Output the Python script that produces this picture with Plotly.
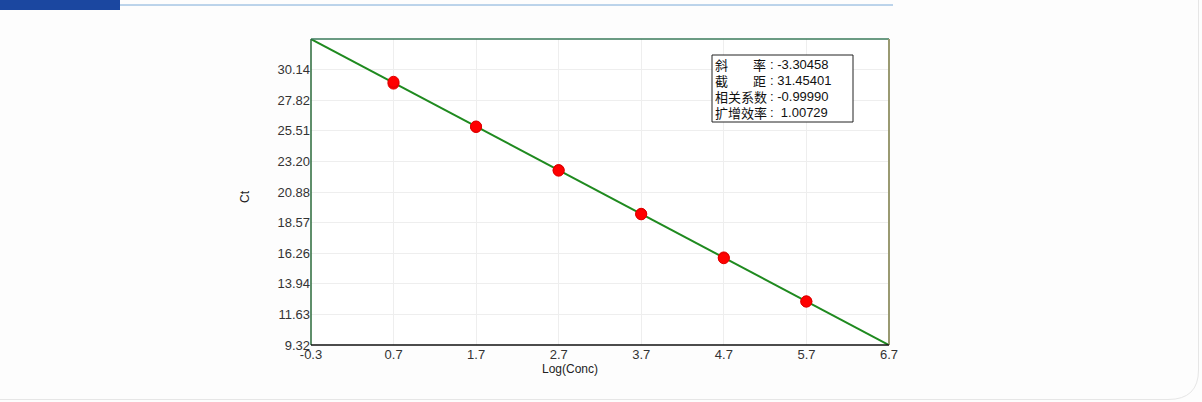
import plotly.graph_objects as go

# Data
log_conc = [0.699, 0.699, 1.699, 1.699, 2.699, 2.699, 3.699, 3.699, 4.699, 4.699, 5.699, 5.699]
ct_values = [29.08, 29.22, 25.80, 25.84, 22.55, 22.50, 19.24, 19.20, 15.94, 15.88, 12.62, 12.60]
slope = -3.30458
intercept = 31.45401
corr = -0.99990
efficiency = 1.00729
x_range = [-0.3, 6.7]
y_ticks = [9.32, 11.63, 13.94, 16.26, 18.57, 20.88, 23.20, 25.51, 27.82, 30.14]
x_ticks = [-0.3, 0.7, 1.7, 2.7, 3.7, 4.7, 5.7, 6.7]
info_left = ["斜", "截", "相关系数", "扩增效率"]
info_right = ["率", "距", "", ""]
info_values = [f"{slope:.5f}", f"{intercept:.5f}", f"{corr:.5f}", f"&nbsp;{efficiency:.5f}"]

line_y = [slope * x + intercept for x in x_range]
y_top = y_ticks[0] + (y_ticks[-1] - y_ticks[0]) / 9 * 10

fig = go.Figure()
fig.add_trace(go.Scatter(x=x_range, y=line_y, mode="lines",
                         line=dict(color="#1f8a1f", width=2), hoverinfo="skip"))
fig.add_trace(go.Scatter(x=log_conc, y=ct_values, mode="markers",
                         marker=dict(color="#ff0000", size=11, line=dict(color="#e00000", width=1))))

W, H = 1202, 402
L, R, T, B = 311, 889, 39, 345
pw, ph = R - L, B - T

def px(xp):
    return (xp - L) / pw

def py(yp):
    return (B - yp) / ph

shapes = [
    # page card border
    dict(type="path", xref="paper", yref="paper",
         path=f"M {px(0)} {py(399.5)} L {px(1168)} {py(399.5)} Q {px(1198.5)} {py(399.5)} {px(1198.5)} {py(370)} L {px(1198.5)} {py(0)}",
         line=dict(color="#e6e6e6", width=1), layer="below"),
    # header bar
    dict(type="rect", xref="paper", yref="paper", x0=px(0), x1=px(120), y0=py(10), y1=py(0),
         fillcolor="#1b47a0", line=dict(width=0)),
    dict(type="line", xref="paper", yref="paper", x0=px(120), x1=px(893), y0=py(5), y1=py(5),
         line=dict(color="#7aaad8", width=1)),
    # axis frame
    dict(type="line", xref="paper", yref="paper", x0=0, x1=1, y0=1, y1=1, line=dict(color="#3a7a5a", width=1.5)),
    dict(type="line", xref="paper", yref="paper", x0=0, x1=0, y0=0, y1=1, line=dict(color="#2a6a3a", width=1.5)),
    dict(type="line", xref="paper", yref="paper", x0=1, x1=1, y0=0, y1=1, line=dict(color="#9a9a72", width=2)),
    dict(type="line", xref="paper", yref="paper", x0=0, x1=1, y0=0, y1=0, line=dict(color="#111111", width=1.5)),
    # info box
    dict(type="rect", xref="paper", yref="paper", x0=px(712), x1=px(853), y0=py(122), y1=py(55),
         fillcolor="white", line=dict(color="#222222", width=1)),
]

cjk = dict(family="Noto Sans CJK SC", size=13, color="#111111")
for i, (lft, rgt, val) in enumerate(zip(info_left, info_right, info_values)):
    yc = 64 + i * 16
    fig.add_annotation(xref="paper", yref="paper", x=px(714), y=py(yc), xanchor="left", yanchor="middle",
                       text=lft, showarrow=False, font=cjk, borderpad=0)
    if rgt:
        fig.add_annotation(xref="paper", yref="paper", x=px(767), y=py(yc), xanchor="right", yanchor="middle",
                           text=rgt, showarrow=False, font=cjk, borderpad=0)
    fig.add_annotation(xref="paper", yref="paper", x=px(769), y=py(yc), xanchor="left", yanchor="middle",
                       text=f":&nbsp;{val}", showarrow=False, borderpad=0,
                       font=dict(family="Liberation Sans, Arial", size=13, color="#111111"))

# axis titles
fig.add_annotation(xref="paper", yref="paper", x=px(570), y=py(369), xanchor="center", yanchor="middle",
                   text="Log(Conc)", showarrow=False, font=dict(size=12, color="#222222"))
fig.add_annotation(xref="paper", yref="paper", x=px(245), y=py(197), xanchor="center", yanchor="middle",
                   text="Ct", textangle=-90, showarrow=False, font=dict(size=12, color="#222222"))

fig.update_layout(
    width=W, height=H,
    margin=dict(l=L, r=W - R, t=T, b=H - B),
    paper_bgcolor="#fdfdfd", plot_bgcolor="white",
    showlegend=False, shapes=shapes,
    font=dict(family="Liberation Sans, Arial", size=13, color="#333333"),
    xaxis=dict(range=x_range, tickvals=x_ticks, ticktext=[f"{v:.1f}" for v in x_ticks],
               showgrid=True, gridcolor="#eeeeee", zeroline=False, showline=False, ticks="",
               tickfont=dict(size=13)),
    yaxis=dict(range=[y_ticks[0], y_top], tickvals=y_ticks, ticktext=[f"{v:.2f}" for v in y_ticks],
               showgrid=True, gridcolor="#eeeeee", zeroline=False, showline=False, ticks="",
               tickfont=dict(size=13)),
)

fig.write_html("out.html", config={"displayModeBar": False},
               post_script="document.body.style.margin='0';")
